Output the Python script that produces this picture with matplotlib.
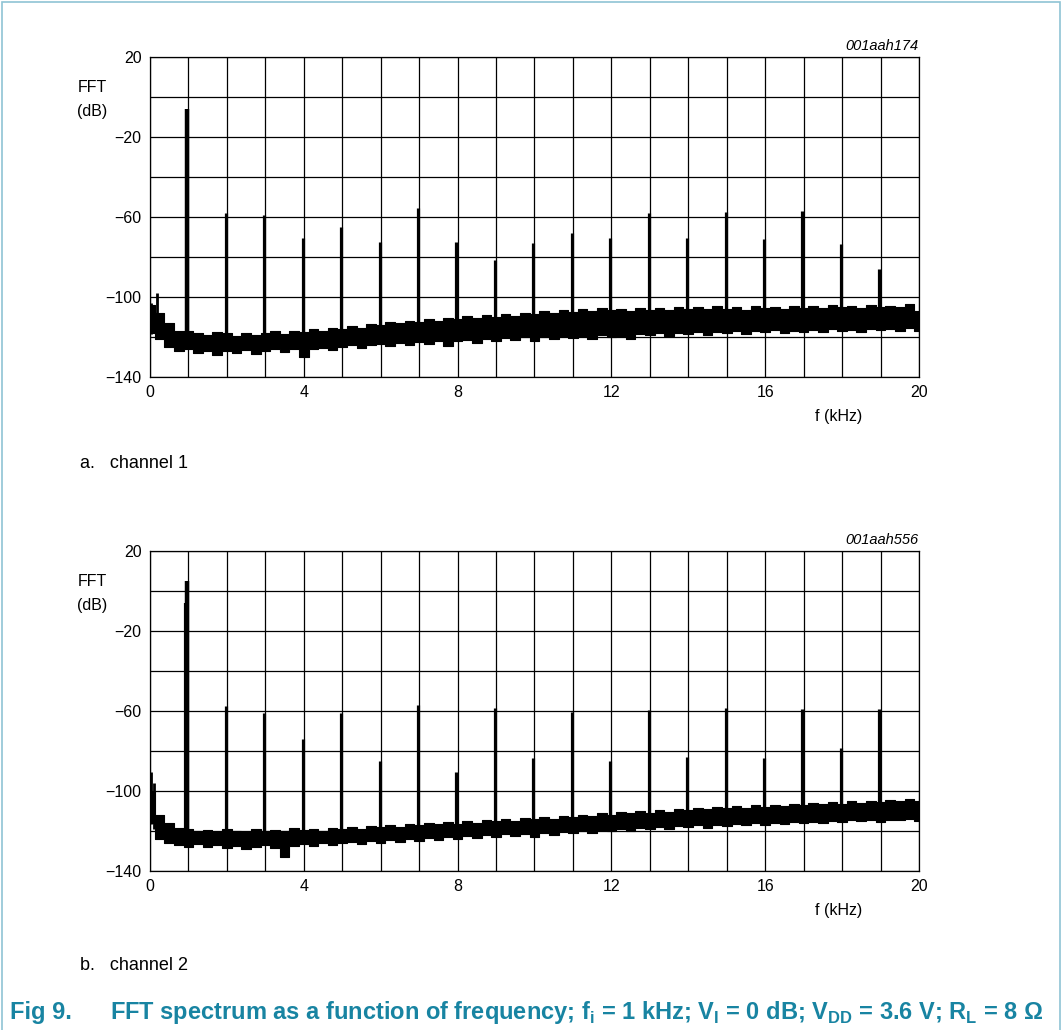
import numpy as np
import matplotlib
matplotlib.use("Agg")
import matplotlib.pyplot as plt
from matplotlib.patches import Rectangle

plt.rcParams['font.family'] = ['Liberation Sans', 'DejaVu Sans']
plt.rcParams['mathtext.fontset'] = 'custom'
plt.rcParams['mathtext.bf'] = 'Liberation Sans:bold'
plt.rcParams['mathtext.rm'] = 'Liberation Sans'

# harmonic peaks (kHz, dB)
harm_f = [1, 2, 3, 4, 5, 6, 7, 8, 9, 10, 11, 12, 13, 14, 15, 16, 17, 18, 19]
peak_ch1 = [-6, -58, -59, -70.3, -65, -72.3, -55.5, -72.3, -81.5, -73,
            -68, -70.3, -58, -70.7, -57.5, -71, -57, -73.5, -86]
peak_ch2 = [5, -57.5, -61, -74, -61, -85, -57, -90.5, -58.7, -83.5,
            -60.3, -85, -59.5, -83, -58.7, -83.5, -59, -78.5, -59]
# extra shoulder next to the fundamental in channel 2
extra_ch2_f = [0.94]
extra_ch2_db = [-6]

# low-frequency spikes near DC
lf_f_ch1 = [0.03, 0.18]
lf_db_ch1 = [-103, -98]
lf_f_ch2 = [0.02, 0.1]
lf_db_ch2 = [-90.5, -96]

# noise floor envelope, every 0.25 kHz from 0 to 20 kHz
noise_f = np.arange(0, 20.01, 0.25)
hi_ch1 = [-104, -108, -113, -117, -117, -118, -119, -117.5, -118, -119.5,
          -118, -119, -118, -117, -118.5, -117, -117.5, -116, -117, -115.5,
          -116, -114.5, -115.5, -113.5, -114, -112.5, -113, -112, -112.5, -111,
          -112, -110.5, -111, -109.5, -110.5, -109, -110, -108.5, -109.5, -108,
          -108.5, -107, -108, -106.5, -107.5, -106, -107, -105.5, -106.5, -106,
          -107, -105.5, -106.5, -105.5, -106.5, -105, -106, -105, -106, -104.5,
          -106, -105, -106.5, -104.5, -105.5, -105, -106, -104.5, -105.5, -104.5,
          -105.5, -104, -105, -104.5, -105.5, -104, -105, -104.5, -105, -103.5,
          -107]
lo_ch1 = [-118, -121, -125, -127, -126, -128, -127, -129, -127, -128,
          -126.5, -128.5, -127, -126, -127.5, -126, -130, -126, -125.5, -126.5,
          -125, -124, -125.5, -124, -123.5, -124.5, -123, -124, -122.5, -123.5,
          -122, -124.5, -122, -121.5, -123, -121, -122, -120.5, -121.5, -120,
          -122, -120, -121, -119.5, -120.5, -119.5, -121, -119, -120, -119.5,
          -121, -118.5, -119, -118, -119.5, -118, -118.5, -117.5, -119, -117.5,
          -118, -117, -118.5, -117, -117.5, -116.5, -118, -117, -117.5, -116.5,
          -117.5, -116, -117, -116.5, -117.5, -116, -116.5, -116, -117, -115.5,
          -117]
hi_ch2 = [-100, -112, -116, -118.5, -119, -120, -119.5, -120.5, -119, -120,
          -120.5, -119, -120, -119.5, -120, -118.5, -119.5, -119, -120, -118.5,
          -119, -118, -119, -117.5, -118, -117, -118, -116.5, -117, -116,
          -116.5, -115.5, -116.5, -115, -116, -114.5, -115, -114, -115, -113.5,
          -114, -113, -114, -112.5, -113, -112, -112.5, -111, -112, -110.5,
          -111, -110, -111, -109.5, -110.5, -109, -109.5, -108.5, -109, -108,
          -108.5, -107.5, -108.5, -107, -108, -107, -107.5, -106.5, -107, -106,
          -106.5, -105.5, -106.5, -105, -106, -105, -105.5, -104.5, -105, -104,
          -105]
lo_ch2 = [-116, -124, -126, -127, -128, -126.5, -128, -127, -128.5, -127.5,
          -129, -128, -127, -128.5, -133, -127.5, -126.5, -127.5, -126, -127,
          -126, -125.5, -126.5, -125, -126, -124.5, -125.5, -124, -125, -123.5,
          -124.5, -123, -124, -122.5, -123.5, -122, -123, -121.5, -122.5, -121.5,
          -123, -121, -122, -120.5, -121, -120, -121, -119.5, -120, -119,
          -120, -118.5, -119, -118, -119, -117.5, -118, -117, -118.5, -117,
          -117.5, -116.5, -117, -116, -117, -116, -116.5, -115.5, -116, -115.5,
          -116, -115, -115.5, -114.5, -115, -114.5, -115.5, -114.5, -114.5, -114,
          -115]

x_ticks = [0, 4, 8, 12, 16, 20]
y_ticks = [20, -20, -60, -100, -140]
teal = '#1884a2'

fig = plt.figure(figsize=(10.63, 10.30), dpi=100)

# light frame around the figure
fig.patches.append(Rectangle((0.0015, -0.01), 0.996, 1.0085, transform=fig.transFigure,
                             fill=False, edgecolor='#8fc3d4', lw=1.2))


def draw_panel(ax, hi, lo, peaks, lf_f, lf_db, code, extra_f=None, extra_db=None):
    ax.set_xlim(0, 20)
    ax.set_ylim(-140, 20)
    ax.set_xticks(np.arange(0, 21, 1), minor=True)
    ax.set_yticks(np.arange(-140, 21, 20), minor=True)
    ax.set_xticks(x_ticks)
    ax.set_yticks(y_ticks)
    ax.set_xticklabels([str(v) for v in x_ticks])
    ax.set_yticklabels([str(v).replace('-', '\u2212') for v in y_ticks])
    ax.grid(True, which='both', color='black', lw=0.9)
    ax.tick_params(which='both', length=0, labelsize=11.5, pad=6)
    for sp in ax.spines.values():
        sp.set_linewidth(0.9)

    # noise floor as a dense band
    ax.fill_between(noise_f, lo, hi, step='mid', color='black', lw=0.8, zorder=3)
    base = np.interp(harm_f, noise_f, lo)
    ax.vlines(np.array(harm_f[1:]) - 0.03, base[1:], peaks[1:], color='black', lw=2.3, zorder=4)
    ax.vlines(harm_f[0] - 0.03, base[0], peaks[0], color='black', lw=3.2, zorder=4)
    base_lf = np.interp(lf_f, noise_f, lo)
    ax.vlines(lf_f, base_lf, lf_db, color='black', lw=2, zorder=4)
    if extra_f is not None:
        ax.vlines(extra_f, np.interp(extra_f, noise_f, lo), extra_db,
                  color='black', lw=3, zorder=4)

    ax.text(1.0, 1.012, code, transform=ax.transAxes, ha='right', va='bottom',
            fontsize=10.5, style='italic')
    ax.text(-0.0945, 0.905, 'FFT', transform=ax.transAxes, ha='left', va='center',
            fontsize=11.5)
    ax.text(-0.0945, 0.83, '(dB)', transform=ax.transAxes, ha='left', va='center',
            fontsize=11.5)
    ax.text(0.895, -0.125, 'f (kHz)', transform=ax.transAxes, ha='center', va='center',
            fontsize=11.5)


ax1 = fig.add_axes([0.1411, 0.6340, 0.7234, 0.3107])
draw_panel(ax1, hi_ch1, lo_ch1, peak_ch1, lf_f_ch1, lf_db_ch1, '001aah174')

ax2 = fig.add_axes([0.1411, 0.1544, 0.7234, 0.3107])
draw_panel(ax2, hi_ch2, lo_ch2, peak_ch2, lf_f_ch2, lf_db_ch2, '001aah556',
           extra_ch2_f, extra_ch2_db)

fig.text(80 / 1063, 1 - 464 / 1030, 'a.   channel 1', ha='left', va='center', fontsize=13)
fig.text(80 / 1063, 1 - 965 / 1030, 'b.   channel 2', ha='left', va='center', fontsize=13)

fig.text(10 / 1063, 1 - 1012 / 1030, 'Fig 9.', ha='left', va='center', fontsize=17,
         fontweight='bold', color=teal)
caption = (r'FFT spectrum as a function of frequency; f$_{\mathbf{i}}$ = 1 kHz; '
           r'V$_{\mathbf{I}}$ = 0 dB; V$_{\mathbf{DD}}$ = 3.6 V; R$_{\mathbf{L}}$ = 8 Ω')
fig.text(110 / 1063, 1 - 1012 / 1030, caption, ha='left', va='center', fontsize=17,
         fontweight='bold', color=teal)

fig.savefig('out.png', dpi=100)
